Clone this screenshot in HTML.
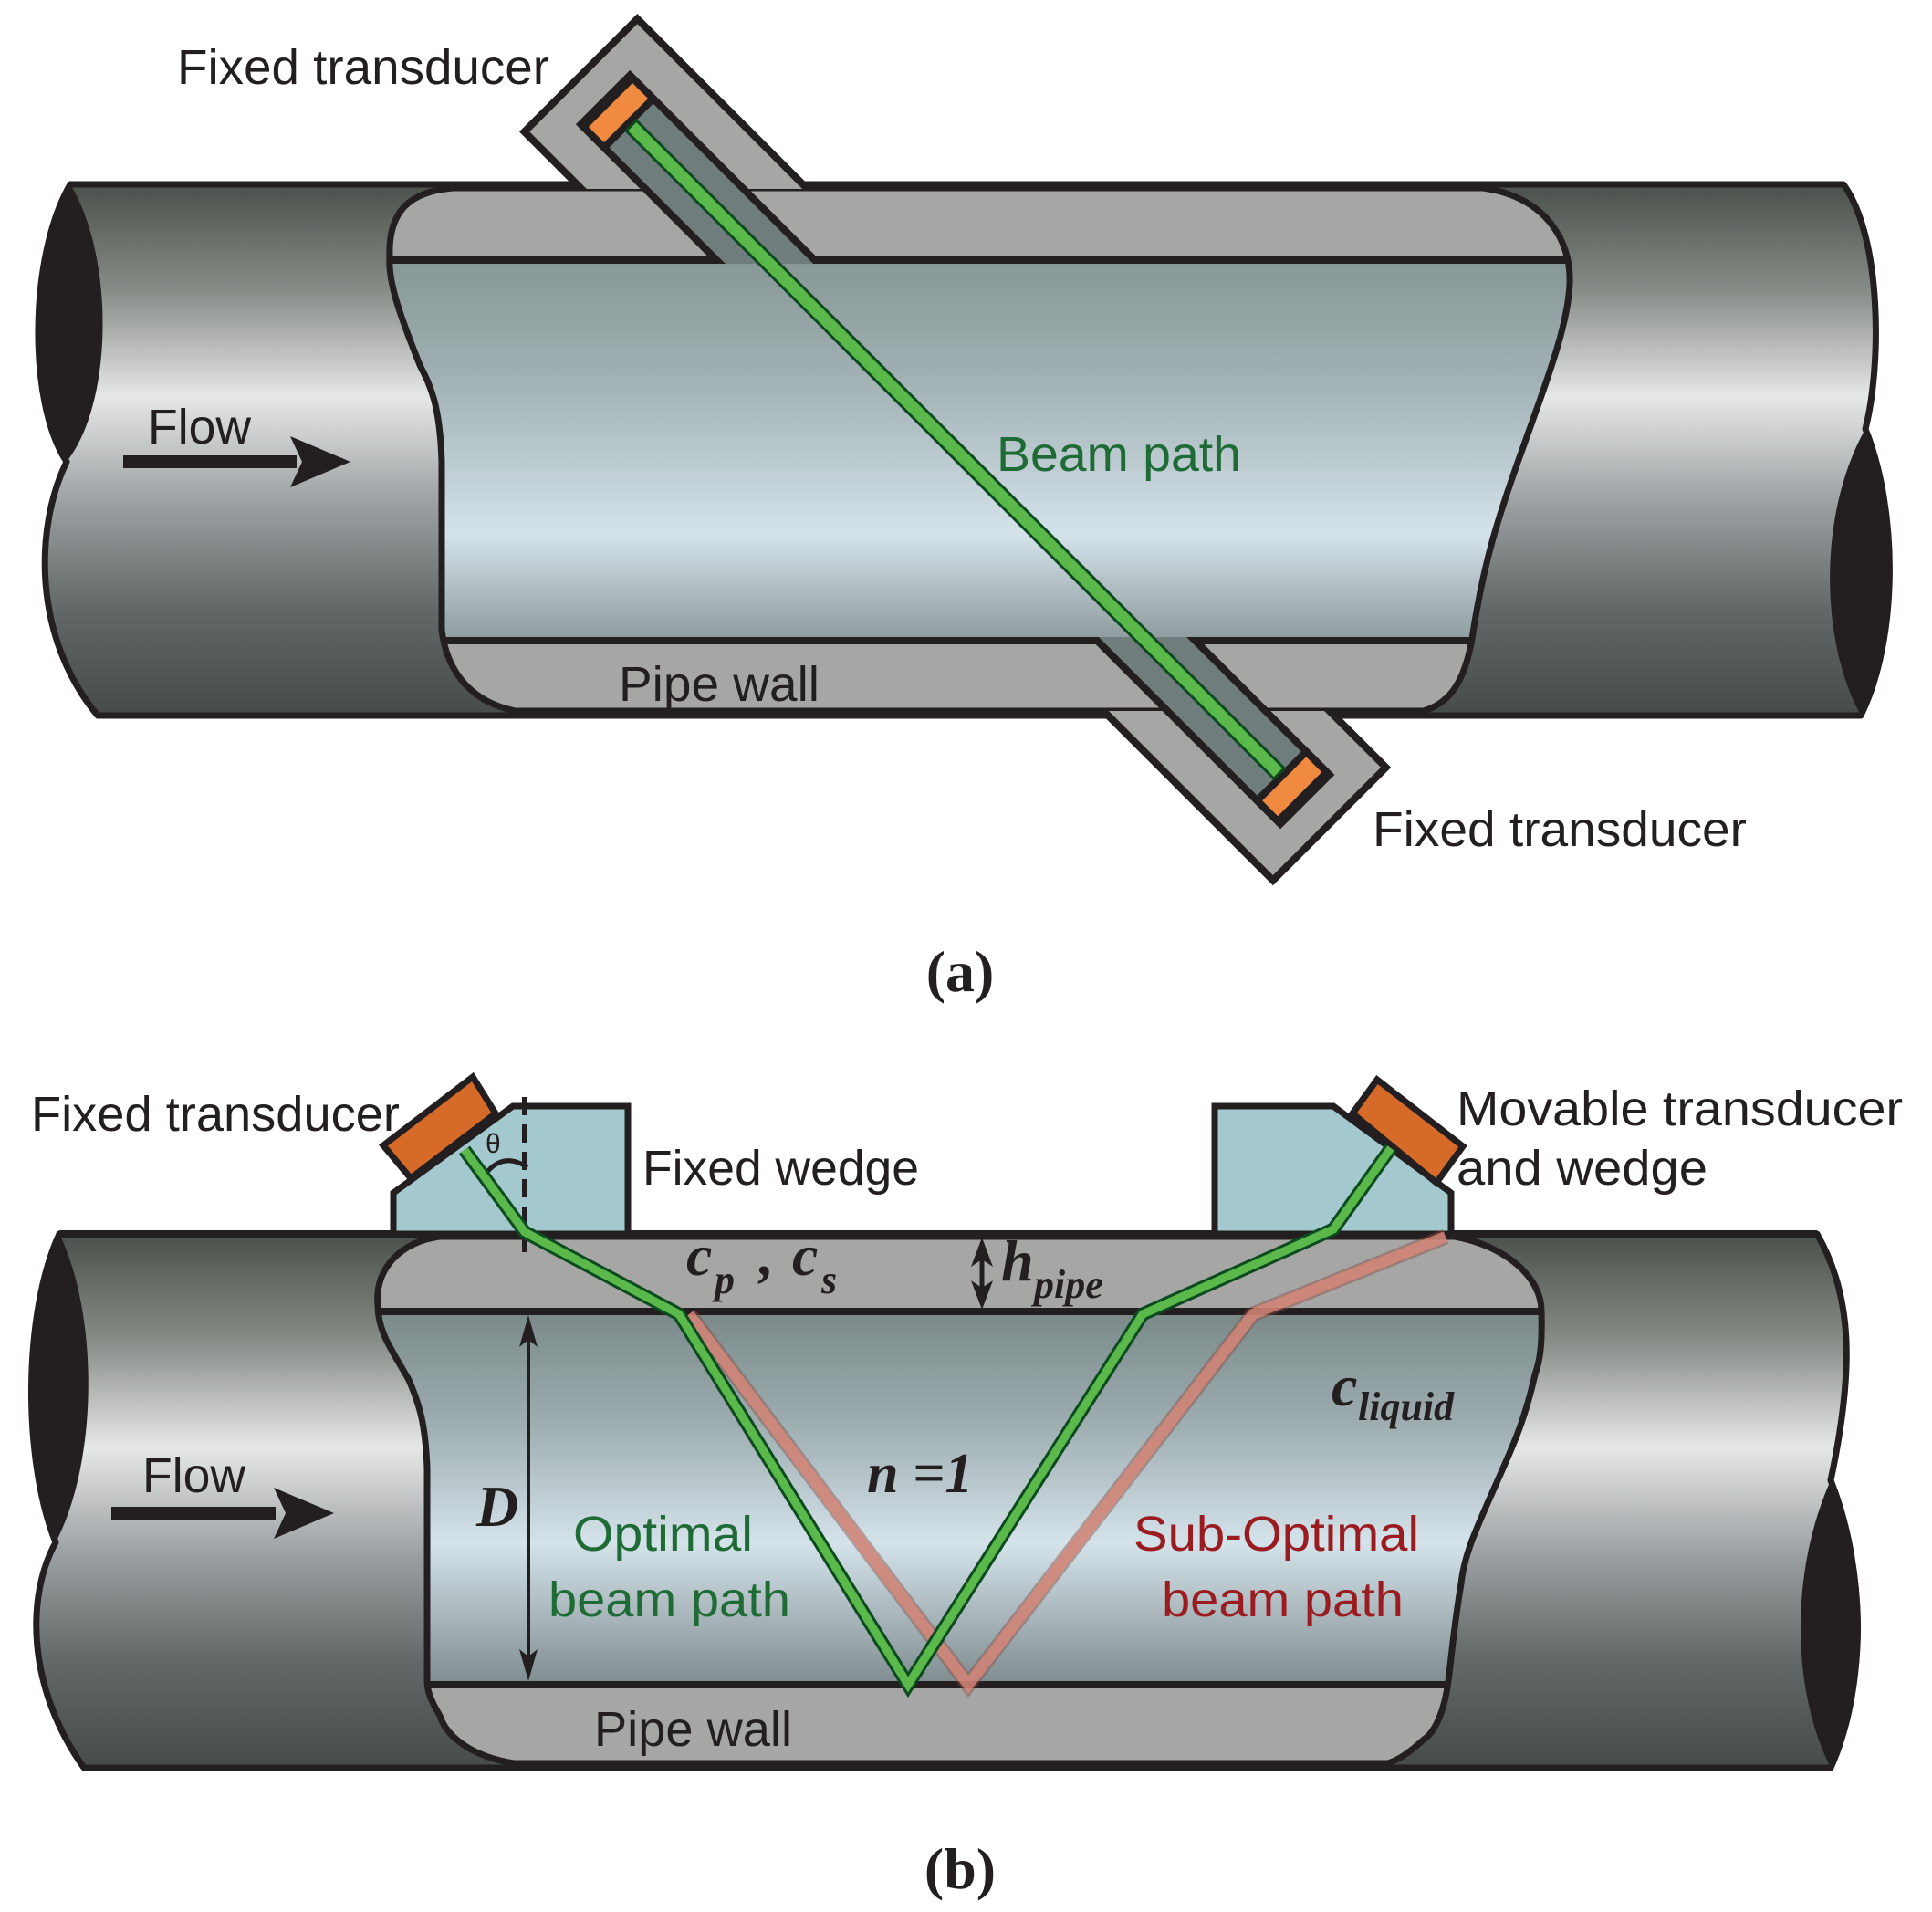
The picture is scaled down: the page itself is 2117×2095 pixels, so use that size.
<!DOCTYPE html>
<html><head><meta charset="utf-8"><style>html,body{margin:0;padding:0;background:#fff}svg{display:block}</style></head>
<body>
<svg xmlns="http://www.w3.org/2000/svg" width="2117" height="2095" viewBox="0 0 2117 2095">
<defs>
<linearGradient id="pipeA" x1="0" y1="202" x2="0" y2="784" gradientUnits="userSpaceOnUse">
<stop offset="0" stop-color="#4b504b"/><stop offset="0.2" stop-color="#878c87"/><stop offset="0.4" stop-color="#e6e7e7"/><stop offset="0.6" stop-color="#9ca0a2"/><stop offset="0.8" stop-color="#626868"/><stop offset="1" stop-color="#474b49"/>
</linearGradient>
<linearGradient id="pipeB" x1="0" y1="1352" x2="0" y2="1937" gradientUnits="userSpaceOnUse">
<stop offset="0" stop-color="#4b504b"/><stop offset="0.2" stop-color="#878c87"/><stop offset="0.4" stop-color="#e6e7e7"/><stop offset="0.6" stop-color="#9ca0a2"/><stop offset="0.8" stop-color="#626868"/><stop offset="1" stop-color="#474b49"/>
</linearGradient>
<linearGradient id="liqA" x1="0" y1="285" x2="0" y2="702" gradientUnits="userSpaceOnUse">
<stop offset="0" stop-color="#879795"/><stop offset="0.35" stop-color="#a5b5b8"/><stop offset="0.72" stop-color="#d4e2ea"/><stop offset="1" stop-color="#8d9b9e"/>
</linearGradient>
<linearGradient id="liqB" x1="0" y1="1437" x2="0" y2="1846" gradientUnits="userSpaceOnUse">
<stop offset="0" stop-color="#7a8988"/><stop offset="0.3" stop-color="#9eadb0"/><stop offset="0.62" stop-color="#d4e2ea"/><stop offset="1" stop-color="#7f8d90"/>
</linearGradient>
<clipPath id="wallAclip"><path d="M496,206 L1625,206 C1690,215 1722,260 1720,311 C1718,360 1690,430 1669,490 C1640,570 1625,620 1613,700 C1605,745 1590,770 1560,779 L565,779 C520,770 490,740 484,690 L484,506 C482,440 470,420 460,400 C440,350 425,310 427,282 C425,230 450,210 496,206 Z"/></clipPath>
<clipPath id="wallBclip"><path d="M482,1355 L1594,1355 C1650,1365 1689,1400 1689,1436 C1690,1470 1688,1490 1682,1506 C1670,1560 1655,1590 1642,1620 C1620,1670 1605,1700 1601,1735 C1592,1790 1590,1820 1587,1842 C1582,1880 1570,1900 1560,1906 C1545,1920 1530,1930 1520,1932 L563,1932 C520,1925 490,1905 482,1880 C470,1860 468,1850 468,1842 L468,1608 C466,1560 460,1540 448,1512 C430,1480 414,1460 414,1430 C410,1390 440,1360 482,1355 Z"/></clipPath>
<clipPath id="outA"><rect x="0" y="0" width="2117" height="207"/><rect x="0" y="779" width="2117" height="400"/></clipPath>
<clipPath id="chanA"><rect x="0" y="0" width="2117" height="289"/><rect x="0" y="698" width="2117" height="400"/></clipPath>
</defs>

<!-- ===== PANEL A ===== -->
<path d="M77,202 L2020,202 C2062,260 2062,400 2044,470 C2080,560 2080,700 2039,784 L107,784 C37,700 37,580 73,506 C30,440 32,280 77,202 Z" fill="url(#pipeA)" stroke="#231f20" stroke-width="7" stroke-linejoin="round"/>
<path d="M77,202 C32,280 30,440 73,506 C125,440 125,280 77,202 Z" fill="#231f20"/>
<path d="M2044,470 C1993,560 1993,700 2039,784 C2080,700 2080,560 2044,470 Z" fill="#231f20"/>
<path d="M496,206 L1625,206 C1690,215 1722,260 1720,311 C1718,360 1690,430 1669,490 C1640,570 1625,620 1613,700 C1605,745 1590,770 1560,779 L565,779 C520,770 490,740 484,690 L484,506 C482,440 470,420 460,400 C440,350 425,310 427,282 C425,230 450,210 496,206 Z" fill="#a6a7a4"/>
<g clip-path="url(#wallAclip)">
<rect x="400" y="285" width="1350" height="417" fill="url(#liqA)"/>
<line x1="400" y1="285" x2="1750" y2="285" stroke="#231f20" stroke-width="8"/>
<line x1="400" y1="702" x2="1750" y2="702" stroke="#231f20" stroke-width="8"/>
</g>
<path d="M496,206 L1625,206 C1690,215 1722,260 1720,311 C1718,360 1690,430 1669,490 C1640,570 1625,620 1613,700 C1605,745 1590,770 1560,779 L565,779 C520,770 490,740 484,690 L484,506 C482,440 470,420 460,400 C440,350 425,310 427,282 C425,230 450,210 496,206 Z" fill="none" stroke="#231f20" stroke-width="7"/>
<line x1="77" y1="202" x2="2020" y2="202" stroke="#231f20" stroke-width="7"/>
<line x1="107" y1="784" x2="2039" y2="784" stroke="#231f20" stroke-width="7"/>
<!-- housing -->
<g clip-path="url(#outA)"><g transform="translate(636.5,82.5) rotate(45)">
<rect x="0" y="-87.5" width="1160" height="175" fill="#a6a7a4" stroke="#231f20" stroke-width="8"/>
</g></g>
<g clip-path="url(#chanA)"><g transform="translate(636.5,82.5) rotate(45)">
<rect x="38" y="-38" width="1084" height="76" fill="#6f7d7d" stroke="#231f20" stroke-width="8"/>
</g></g>
<g transform="translate(636.5,82.5) rotate(45)">
<rect x="42" y="-38" width="32" height="76" fill="#f08a40" stroke="#231f20" stroke-width="8"/>
<rect x="1086" y="-38" width="32" height="76" fill="#f08a40" stroke="#231f20" stroke-width="8"/>
<rect x="78" y="-8" width="1004" height="16" fill="#5ab94a" stroke="#0c4a20" stroke-width="3"/>
</g>
<!-- flow arrow A -->
<rect x="135" y="499" width="190" height="14" fill="#231f20"/>
<path d="M384,506 L318,478 L331,506 L318,534 Z" fill="#231f20"/>

<g font-family="'Liberation Sans', sans-serif" font-size="54" fill="#231f20">
<text x="194" y="92" textLength="408" lengthAdjust="spacingAndGlyphs">Fixed transducer</text>
<text x="1504" y="927" textLength="410" lengthAdjust="spacingAndGlyphs">Fixed transducer</text>
<text x="162" y="486" textLength="113" lengthAdjust="spacingAndGlyphs">Flow</text>
<text x="1092" y="516" textLength="268" lengthAdjust="spacingAndGlyphs" fill="#1e6b35">Beam path</text>
<text x="678" y="768" textLength="220" lengthAdjust="spacingAndGlyphs">Pipe wall</text>
</g>
<text x="1052" y="1086" text-anchor="middle" font-family="'Liberation Serif', serif" font-weight="bold" font-size="64" fill="#231f20">(a)</text>

<!-- ===== PANEL B ===== -->
<path d="M65,1352 L1991,1352 C2030,1420 2032,1500 2006,1622 C2045,1720 2045,1850 2006,1937 L92,1937 C30,1850 28,1750 61,1690 C25,1600 25,1440 65,1352 Z" fill="url(#pipeB)" stroke="#231f20" stroke-width="7" stroke-linejoin="round"/>
<path d="M65,1352 C25,1440 25,1600 61,1690 C108,1600 108,1440 65,1352 Z" fill="#231f20"/>
<path d="M2006,1622 C1962,1720 1962,1850 2006,1937 C2050,1850 2050,1720 2006,1622 Z" fill="#231f20"/>
<path d="M482,1355 L1594,1355 C1650,1365 1689,1400 1689,1436 C1690,1470 1688,1490 1682,1506 C1670,1560 1655,1590 1642,1620 C1620,1670 1605,1700 1601,1735 C1592,1790 1590,1820 1587,1842 C1582,1880 1570,1900 1560,1906 C1545,1920 1530,1930 1520,1932 L563,1932 C520,1925 490,1905 482,1880 C470,1860 468,1850 468,1842 L468,1608 C466,1560 460,1540 448,1512 C430,1480 414,1460 414,1430 C410,1390 440,1360 482,1355 Z" fill="#a6a7a4"/>
<g clip-path="url(#wallBclip)">
<rect x="400" y="1437" width="1350" height="409" fill="url(#liqB)"/>
<line x1="400" y1="1437" x2="1750" y2="1437" stroke="#231f20" stroke-width="8"/>
<line x1="400" y1="1846" x2="1750" y2="1846" stroke="#231f20" stroke-width="8"/>
</g>
<path d="M482,1355 L1594,1355 C1650,1365 1689,1400 1689,1436 C1690,1470 1688,1490 1682,1506 C1670,1560 1655,1590 1642,1620 C1620,1670 1605,1700 1601,1735 C1592,1790 1590,1820 1587,1842 C1582,1880 1570,1900 1560,1906 C1545,1920 1530,1930 1520,1932 L563,1932 C520,1925 490,1905 482,1880 C470,1860 468,1850 468,1842 L468,1608 C466,1560 460,1540 448,1512 C430,1480 414,1460 414,1430 C410,1390 440,1360 482,1355 Z" fill="none" stroke="#231f20" stroke-width="7"/>
<line x1="65" y1="1352" x2="1991" y2="1352" stroke="#231f20" stroke-width="8"/>
<line x1="92" y1="1937" x2="2006" y2="1937" stroke="#231f20" stroke-width="7"/>
<!-- wedges -->
<path d="M431,1352 L431,1307 L562,1212 L688,1212 L688,1352 Z" fill="#a3c8cd" stroke="#231f20" stroke-width="7" stroke-linejoin="miter"/>
<path d="M1331,1352 L1331,1212 L1461,1212 L1590,1307 L1590,1352 Z" fill="#a3c8cd" stroke="#231f20" stroke-width="7"/>
<!-- transducers -->
<path d="M420,1255 L518,1180 L543,1220 L450,1291 Z" fill="#d66a28" stroke="#231f20" stroke-width="7" stroke-linejoin="miter"/>
<path d="M1482,1220 L1509,1183 L1603,1256 L1574,1296 Z" fill="#d66a28" stroke="#231f20" stroke-width="7" stroke-linejoin="miter"/>
<!-- dashed vertical & theta -->
<line x1="575" y1="1202" x2="575" y2="1373" stroke="#231f20" stroke-width="6" stroke-dasharray="20,10"/>
<path d="M533,1285 Q552,1262 578,1279" fill="none" stroke="#231f20" stroke-width="5"/>
<text x="532" y="1263" font-family="'Liberation Sans', sans-serif" font-size="30" fill="#231f20">θ</text>
<!-- beams -->
<polyline points="1584,1355 1373,1440 1061,1846 755,1440" fill="none" stroke="#8a4a40" stroke-opacity="0.45" stroke-width="17" stroke-linejoin="miter"/>
<polyline points="1584,1355 1373,1440 1061,1846 755,1440" fill="none" stroke="#d88a7a" stroke-opacity="0.8" stroke-width="12" stroke-linejoin="miter"/>
<polyline points="509,1260 575,1350 744,1440 995,1846 1252,1440 1461,1347 1524,1258" fill="none" stroke="#0c4a20" stroke-width="15" stroke-linejoin="miter"/>
<polyline points="509,1260 575,1350 744,1440 995,1846 1252,1440 1461,1347 1524,1258" fill="none" stroke="#5ab94a" stroke-width="9" stroke-linejoin="miter"/>
<!-- D arrow -->
<line x1="579" y1="1460" x2="579" y2="1822" stroke="#231f20" stroke-width="4"/>
<path d="M579,1441 L569,1476 L579,1468 L589,1476 Z" fill="#231f20"/>
<path d="M579,1842 L569,1807 L579,1815 L589,1807 Z" fill="#231f20"/>
<!-- h arrow -->
<line x1="1076" y1="1370" x2="1076" y2="1421" stroke="#231f20" stroke-width="5"/>
<path d="M1076,1356 L1064,1388 L1076,1380 L1088,1388 Z" fill="#231f20"/>
<path d="M1076,1435 L1064,1403 L1076,1411 L1088,1403 Z" fill="#231f20"/>
<!-- flow arrow B -->
<rect x="122" y="1651" width="180" height="14" fill="#231f20"/>
<path d="M366,1658 L300,1630 L313,1658 L300,1686 Z" fill="#231f20"/>

<g font-family="'Liberation Sans', sans-serif" font-size="54" fill="#231f20">
<text x="34" y="1239" textLength="404" lengthAdjust="spacingAndGlyphs">Fixed transducer</text>
<text x="704" y="1298" textLength="303" lengthAdjust="spacingAndGlyphs">Fixed wedge</text>
<text x="1596" y="1233" textLength="489" lengthAdjust="spacingAndGlyphs">Movable transducer</text>
<text x="1596" y="1298" textLength="275" lengthAdjust="spacingAndGlyphs">and wedge</text>
<text x="156" y="1635" textLength="113" lengthAdjust="spacingAndGlyphs">Flow</text>
<text x="628" y="1699" textLength="197" lengthAdjust="spacingAndGlyphs" fill="#1e6b35">Optimal</text>
<text x="601" y="1771" textLength="265" lengthAdjust="spacingAndGlyphs" fill="#1e6b35">beam path</text>
<text x="1242" y="1699" textLength="313" lengthAdjust="spacingAndGlyphs" fill="#9b1c20">Sub-Optimal</text>
<text x="1273" y="1771" textLength="265" lengthAdjust="spacingAndGlyphs" fill="#9b1c20">beam path</text>
<text x="651" y="1913" textLength="217" lengthAdjust="spacingAndGlyphs">Pipe wall</text>
</g>
<g font-family="'Liberation Serif', serif" font-weight="bold" font-style="italic" fill="#231f20">
<text x="752" y="1397" font-size="64">c</text>
<text x="783" y="1417" font-size="44">p</text>
<text x="832" y="1397" font-size="64">,</text>
<text x="868" y="1397" font-size="64">c</text>
<text x="900" y="1417" font-size="44">s</text>
<text x="1097" y="1403" font-size="64">h</text>
<text x="1133" y="1422" font-size="44">pipe</text>
<text x="522" y="1672" font-size="64">D</text>
<text x="950" y="1635" font-size="62">n =1</text>
<text x="1459" y="1540" font-size="64">c</text>
<text x="1488" y="1556" font-size="44">liquid</text>
</g>
<text x="1052" y="2069" text-anchor="middle" font-family="'Liberation Serif', serif" font-weight="bold" font-size="64" fill="#231f20">(b)</text>
</svg>
</body></html>
